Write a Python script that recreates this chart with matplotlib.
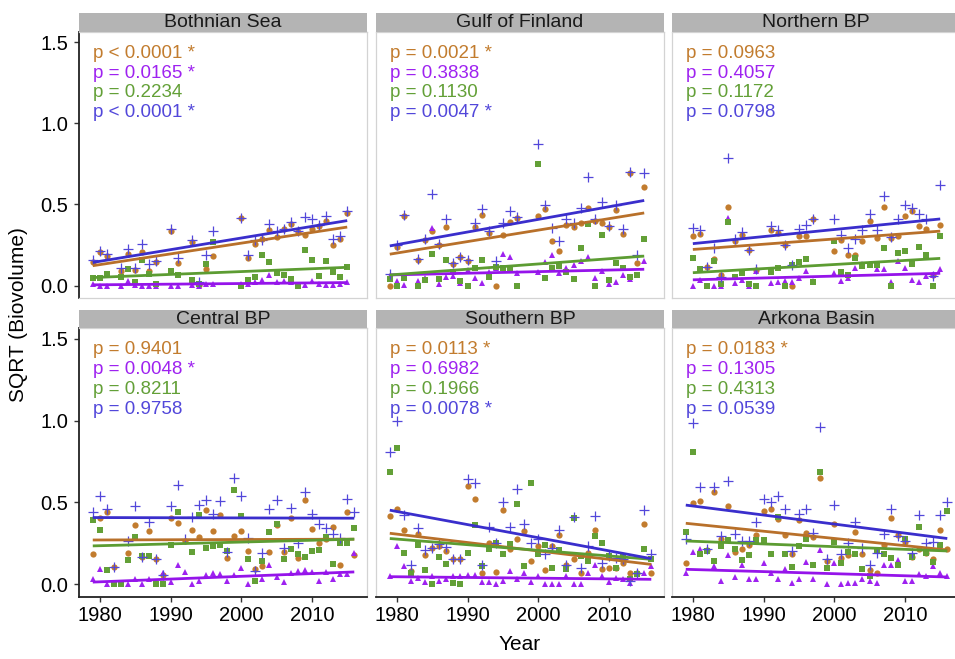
import numpy as np
import matplotlib
matplotlib.use("Agg")
import matplotlib.pyplot as plt

plt.rcParams['font.family'] = ['Liberation Sans', 'DejaVu Sans']

N = np.nan
years = np.arange(1979, 2017)
regions = ["Bothnian Sea", "Gulf of Finland", "Northern BP",
           "Central BP", "Southern BP", "Arkona Basin"]

# ---- data: SQRT(biovolume) per year 1979..2016 ----
bothnian_orange = [0.142, 0.207, 0.183, N, 0.089, 0.193, 0.096, 0.207, 0.089, 0.146, N, 0.333, 0.14, N, 0.268, 0.004, 0.10, 0.183, N, N, N, 0.417, 0.171, 0.258, 0.289, 0.339, 0.299, 0.346, 0.38, 0.329, 0.309, 0.346, 0.366, 0.40, 0.252, 0.289, 0.447, N]
bothnian_purple = [0.01, 0.0, 0.0, N, 0.0, 0.028, 0.004, 0.0, 0.0, 0.0, N, 0.0, 0.0, N, 0.004, 0.0, 0.01, 0.01, N, N, N, 0.008, 0.01, 0.024, 0.035, 0.065, 0.024, 0.028, 0.024, 0.004, 0.004, 0.028, 0.012, 0.004, 0.004, 0.01, 0.02, N]
bothnian_green = [0.049, 0.045, 0.069, N, 0.055, 0.102, 0.02, 0.156, 0.069, 0.012, N, 0.089, 0.065, N, 0.035, 0.012, 0.13, 0.268, N, N, N, 0.0, 0.033, 0.055, 0.191, 0.142, 0.075, 0.065, 0.041, 0.0, 0.217, 0.156, 0.061, 0.15, 0.085, 0.055, 0.112, N]
bothnian_blue = [0.156, 0.211, 0.197, N, 0.106, 0.224, 0.106, 0.258, 0.13, 0.15, N, 0.35, 0.167, N, 0.278, 0.02, 0.191, 0.333, N, N, N, 0.417, 0.187, 0.278, 0.278, 0.382, 0.333, 0.35, 0.39, 0.333, 0.423, 0.41, 0.374, 0.431, 0.285, 0.305, 0.461, N]

gulf_orange = [0.0, 0.24, 0.431, N, 0.157, 0.278, 0.333, 0.25, 0.36, 0.13, 0.177, 0.15, 0.36, 0.435, 0.325, 0.0, 0.309, 0.394, 0.415, N, N, 0.431, 0.472, 0.272, 0.211, 0.374, 0.36, 0.386, 0.476, 0.40, 0.386, 0.36, 0.467, 0.319, 0.695, 0.136, 0.608, N]
gulf_purple = [0.061, 0.03, 0.004, N, 0.028, 0.049, 0.356, 0.012, 0.055, 0.061, 0.016, 0.098, 0.045, 0.016, 0.085, 0.106, 0.197, 0.177, 0.079, N, N, 0.081, 0.142, 0.187, 0.075, 0.106, 0.126, 0.15, 0.177, 0.045, 0.089, 0.01, 0.024, 0.065, 0.041, 0.065, 0.152, N]
gulf_green = [0.041, 0.0, 0.049, N, 0.0, 0.035, 0.197, 0.041, 0.157, 0.081, 0.028, 0.0, 0.11, 0.157, 0.055, 0.116, 0.106, 0.106, 0.0, N, N, 0.746, 0.045, 0.106, 0.122, 0.081, 0.041, 0.228, 0.376, 0.0, 0.313, 0.035, 0.136, 0.106, 0.055, 0.065, 0.289, N]
gulf_blue = [0.069, 0.248, 0.435, N, 0.161, 0.289, 0.563, 0.254, 0.407, 0.14, 0.177, 0.157, 0.384, 0.472, 0.333, 0.152, 0.384, 0.459, 0.421, N, N, 0.874, 0.496, 0.356, 0.274, 0.407, 0.386, 0.476, 0.669, 0.407, 0.516, 0.364, 0.496, 0.35, 0.699, 0.187, 0.695, N]

northern_orange = [N, 0.303, 0.319, 0.116, 0.163, 0.065, 0.486, 0.272, 0.313, 0.217, 0.096, N, 0.339, 0.325, 0.25, 0.0, 0.303, 0.303, 0.407, N, N, 0.211, 0.278, 0.191, 0.187, 0.272, 0.396, 0.295, 0.486, 0.295, 0.305, 0.427, 0.457, 0.366, 0.346, 0.065, 0.37, N]
northern_purple = [N, 0.0, 0.035, 0.0, 0.0, 0.0, 0.415, 0.014, 0.035, 0.0, 0.089, N, 0.014, 0.02, 0.028, 0.02, 0.049, 0.089, 0.028, N, N, 0.075, 0.028, 0.045, 0.106, 0.13, 0.13, 0.102, 0.102, 0.02, 0.15, 0.106, 0.035, 0.02, 0.061, 0.065, 0.102, N]
northern_green = [N, 0.167, 0.10, 0.0, 0.152, 0.01, 0.394, 0.055, 0.075, 0.01, 0.0, N, 0.085, 0.106, 0.0, 0.126, 0.146, 0.163, 0.024, N, N, 0.274, 0.085, 0.065, 0.167, 0.12, 0.126, 0.126, 0.228, 0.0, 0.203, 0.213, 0.13, 0.238, 0.191, 0.0, 0.305, N]
northern_blue = [N, 0.354, 0.339, 0.116, 0.228, 0.055, 0.787, 0.285, 0.329, 0.217, 0.102, N, 0.366, 0.339, 0.252, 0.126, 0.346, 0.374, 0.407, N, N, 0.407, 0.309, 0.228, 0.289, 0.339, 0.441, 0.339, 0.549, 0.299, 0.407, 0.498, 0.478, 0.441, 0.407, 0.061, 0.618, N]

central_orange = [0.188, 0.408, 0.439, 0.106, N, 0.194, 0.361, 0.169, 0.327, 0.153, 0.057, 0.404, 0.373, 0.265, 0.333, 0.29, 0.453, 0.327, 0.424, 0.163, 0.296, 0.327, 0.204, 0.096, 0.112, 0.198, 0.361, 0.198, 0.408, 0.163, 0.514, 0.341, 0.255, 0.28, 0.351, 0.116, 0.439, 0.178]
central_purple = [0.031, 0.092, 0.0, 0.0, 0.0, 0.0, 0.035, 0.0, 0.031, 0.0, 0.067, 0.014, 0.118, 0.076, 0.0, 0.02, 0.055, 0.071, 0.065, 0.02, 0.055, 0.102, 0.0, 0.02, 0.031, 0.118, 0.047, 0.014, 0.071, 0.082, 0.088, 0.076, 0.02, 0.078, 0.031, 0.061, 0.061, 0.194]
central_green = [0.394, 0.331, 0.088, 0.0, 0.0, 0.147, 0.292, 0.173, 0.173, 0.0, 0.0, 0.239, 0.439, N, 0.198, 0.422, 0.224, 0.235, 0.239, 0.204, 0.576, 0.418, 0.157, 0.02, 0.143, 0.322, 0.367, 0.157, 0.214, 0.184, 0.169, 0.204, 0.21, 0.292, 0.122, 0.251, 0.251, 0.347]
central_blue = [0.443, 0.541, 0.459, 0.106, N, 0.265, 0.476, 0.169, 0.378, 0.153, 0.057, 0.476, 0.606, 0.28, 0.414, 0.484, 0.516, 0.429, 0.51, 0.20, 0.649, 0.541, 0.286, 0.082, 0.194, 0.463, 0.516, 0.22, 0.469, 0.255, 0.565, 0.429, 0.367, 0.347, 0.306, 0.286, 0.52, 0.439]

southern_orange = [0.418, 0.463, 0.331, 0.082, 0.306, 0.178, 0.22, 0.235, 0.204, 0.153, 0.153, 0.602, 0.524, 0.071, 0.255, 0.078, 0.455, 0.218, 0.276, 0.327, 0.143, 0.235, 0.088, 0.235, 0.30, 0.118, 0.157, 0.067, 0.194, 0.331, 0.092, 0.102, 0.102, 0.13, 0.071, 0.067, 0.367, 0.071]
southern_purple = [0.051, 0.235, 0.112, 0.02, 0.041, 0.014, 0.051, 0.02, 0.035, 0.05, 0.05, 0.055, 0.055, 0.014, 0.014, 0.0, 0.02, 0.082, 0.031, 0.071, 0.014, 0.051, 0.0, 0.0, 0.0, 0.051, 0.0, 0.004, 0.071, 0.116, 0.051, 0.014, 0.041, 0.031, 0.01, 0.061, 0.071, 0.112]
southern_green = [0.688, 0.833, 0.19, 0.067, 0.239, 0.088, 0.0, 0.167, 0.122, 0.01, 0.0, 0.194, 0.361, 0.112, 0.214, 0.251, 0.184, 0.245, 0.49, 0.112, 0.618, 0.184, 0.239, 0.102, 0.21, 0.092, 0.408, 0.173, 0.143, 0.296, 0.251, 0.173, 0.102, 0.169, 0.035, 0.061, 0.214, 0.157]
southern_blue = [0.81, 1.0, 0.422, 0.118, 0.347, 0.21, 0.22, 0.245, 0.231, 0.153, 0.153, 0.643, 0.618, 0.116, 0.353, 0.255, 0.50, 0.351, 0.582, 0.367, 0.255, 0.276, 0.184, 0.224, 0.333, 0.118, 0.414, 0.102, 0.235, 0.418, 0.133, 0.173, 0.16, 0.153, 0.02, 0.067, 0.455, 0.184]

arkona_orange = [0.129, 0.496, 0.51, 0.21, 0.565, 0.28, 0.48, 0.198, 0.214, 0.239, 0.30, 0.449, 0.459, 0.402, 0.30, 0.184, 0.394, 0.312, 0.292, 0.649, 0.143, 0.367, 0.163, 0.178, 0.32, 0.184, 0.088, 0.071, 0.239, 0.408, 0.30, 0.259, 0.17, 0.218, 0.19, 0.157, 0.331, 0.218]
arkona_purple = [0.067, 0.198, 0.218, 0.204, 0.112, 0.02, 0.178, 0.047, 0.116, 0.035, 0.035, 0.129, 0.071, 0.031, 0.092, 0.01, 0.035, 0.139, 0.031, 0.21, 0.0, 0.129, 0.0, 0.01, 0.01, 0.035, 0.02, 0.01, 0.118, 0.118, 0.149, 0.02, 0.02, 0.061, 0.051, 0.112, 0.067, 0.051]
arkona_green = [0.32, 0.81, 0.184, 0.204, 0.143, 0.235, 0.271, 0.218, 0.147, 0.18, 0.271, 0.271, 0.184, 0.414, 0.184, 0.108, 0.235, 0.276, 0.116, 0.684, 0.102, 0.259, 0.129, 0.198, 0.184, 0.096, 0.051, 0.21, 0.184, 0.163, 0.118, 0.276, 0.17, 0.353, 0.19, 0.137, 0.239, 0.445]
arkona_blue = [0.276, 0.986, 0.592, 0.218, 0.592, 0.296, 0.633, 0.306, 0.265, 0.265, 0.378, 0.524, 0.504, 0.537, 0.459, 0.204, 0.429, 0.459, 0.316, 0.959, 0.157, 0.484, 0.184, 0.251, 0.382, 0.224, 0.116, 0.194, 0.306, 0.463, 0.296, 0.265, 0.19, 0.422, 0.251, 0.259, 0.422, 0.504]

# ---- regression line values at first / last sampled year (per region) ----
orange_fit_start = [0.122, 0.193, 0.222, 0.271, 0.312, 0.373]
orange_fit_end = [0.360, 0.447, 0.335, 0.276, 0.122, 0.210]
purple_fit_start = [0.004, 0.065, 0.035, 0.014, 0.047, 0.092]
purple_fit_end = [0.018, 0.100, 0.075, 0.076, 0.031, 0.045]
green_fit_start = [0.049, 0.065, 0.079, 0.235, 0.280, 0.265]
green_fit_end = [0.112, 0.181, 0.167, 0.276, 0.153, 0.204]
blue_fit_start = [0.142, 0.244, 0.258, 0.408, 0.453, 0.484]
blue_fit_end = [0.400, 0.524, 0.410, 0.404, 0.157, 0.280]

# ---- p-values (orange, purple, green, blue) ----
p_bothnian = ["p < 0.0001 *", "p = 0.0165 *", "p = 0.2234", "p < 0.0001 *"]
p_gulf = ["p = 0.0021 *", "p = 0.3838", "p = 0.1130", "p = 0.0047 *"]
p_northern = ["p = 0.0963", "p = 0.4057", "p = 0.1172", "p = 0.0798"]
p_central = ["p = 0.9401", "p = 0.0048 *", "p = 0.8211", "p = 0.9758"]
p_southern = ["p = 0.0113 *", "p = 0.6982", "p = 0.1966", "p = 0.0078 *"]
p_arkona = ["p = 0.0183 *", "p = 0.1305", "p = 0.4313", "p = 0.0539"]

series_data = [
    [bothnian_orange, bothnian_purple, bothnian_green, bothnian_blue],
    [gulf_orange, gulf_purple, gulf_green, gulf_blue],
    [northern_orange, northern_purple, northern_green, northern_blue],
    [central_orange, central_purple, central_green, central_blue],
    [southern_orange, southern_purple, southern_green, southern_blue],
    [arkona_orange, arkona_purple, arkona_green, arkona_blue],
]
fit_start = [orange_fit_start, purple_fit_start, green_fit_start, blue_fit_start]
fit_end = [orange_fit_end, purple_fit_end, green_fit_end, blue_fit_end]
p_texts = [p_bothnian, p_gulf, p_northern, p_central, p_southern, p_arkona]

pt_colors = ['#C27C2E', '#9E22F0', '#63A037', '#5247DA']
ln_colors = ['#B8702A', '#9514EA', '#5C9C32', '#3A2ECC']
markers = ['o', '^', 's', '+']
msizes = [4.5, 5.0, 4.3, 7.5]

W, H = 955, 659
fig = plt.figure(figsize=(W / 100, H / 100), dpi=100)


def box(l, t, r, b):
    return [l / W, 1 - b / H, (r - l) / W, (b - t) / H]


col_lr = [(79, 367), (376, 664), (672, 960)]
row_tb = [(31.5, 298), (328, 597)]
strip_tb = [(12.5, 31.5), (310, 328)]
border = '#D3D3D3'

for k, name in enumerate(regions):
    r, c = divmod(k, 3)
    l, rr = col_lr[c]
    t, b = row_tb[r]
    ax = fig.add_axes(box(l, t, rr, b))
    ax.set_xlim(1977.05, 2017.8)
    ax.set_ylim(-0.077, 1.565)

    data = series_data[k]
    # points
    for s in range(4):
        vals = np.array(data[s], dtype=float)
        if markers[s] == '+':
            ax.plot(years, vals, linestyle='none', marker='+', ms=msizes[s],
                    mew=0.9, color=pt_colors[s], zorder=3)
        else:
            ax.plot(years, vals, linestyle='none', marker=markers[s], ms=msizes[s],
                    mew=0, color=pt_colors[s], zorder=3)
    # fitted lines
    allv = np.array(data, dtype=float)
    present = ~np.all(np.isnan(allv), axis=0)
    y0, y1 = years[present][0], years[present][-1]
    for s in range(4):
        ax.plot([y0, y1], [fit_start[s][k], fit_end[s][k]], color=ln_colors[s],
                lw=2.0, solid_capstyle='butt', zorder=4)
    # p-value labels
    for s, yy in enumerate([1.432, 1.309, 1.187, 1.065]):
        ax.text(1979.0, yy, p_texts[k][s], color=pt_colors[s], fontsize=13.5,
                ha='left', va='center', zorder=5)

    for side in ['top', 'right', 'left', 'bottom']:
        ax.spines[side].set_color(border)
        ax.spines[side].set_linewidth(0.9)
    ax.set_yticks([0.0, 0.5, 1.0, 1.5])
    ax.set_xticks([1980, 1990, 2000, 2010])
    ax.tick_params(axis='both', length=3.5, width=1.0, color='#333333',
                   labelsize=14.5, labelcolor='black')
    ax.tick_params(axis='y', pad=4)
    ax.tick_params(axis='x', pad=3)
    if c == 0:
        ax.spines['left'].set_color('#222222')
        ax.spines['left'].set_linewidth(1.3)
        ax.set_yticklabels(['0.0', '0.5', '1.0', '1.5'])
    else:
        ax.tick_params(axis='y', length=0, labelleft=False)
    if r == 1:
        ax.spines['bottom'].set_color('#222222')
        ax.spines['bottom'].set_linewidth(1.3)
    else:
        ax.tick_params(axis='x', length=0, labelbottom=False)

    st, sb = strip_tb[r]
    sax = fig.add_axes(box(l, st, rr, sb))
    sax.set_facecolor('#B4B4B4')
    sax.set_xticks([])
    sax.set_yticks([])
    for side in sax.spines.values():
        side.set_visible(False)
    sax.text(0.5, 0.45, name, transform=sax.transAxes, ha='center', va='center',
             fontsize=14, color='#1A1A1A')

fig.text(18 / W, 1 - 315 / H, "SQRT (Biovolume)", rotation=90, ha='center',
         va='center', fontsize=15)
fig.text(520 / W, 1 - 645 / H, "Year", ha='center', va='center', fontsize=15)

fig.savefig("out.png", dpi=100)
